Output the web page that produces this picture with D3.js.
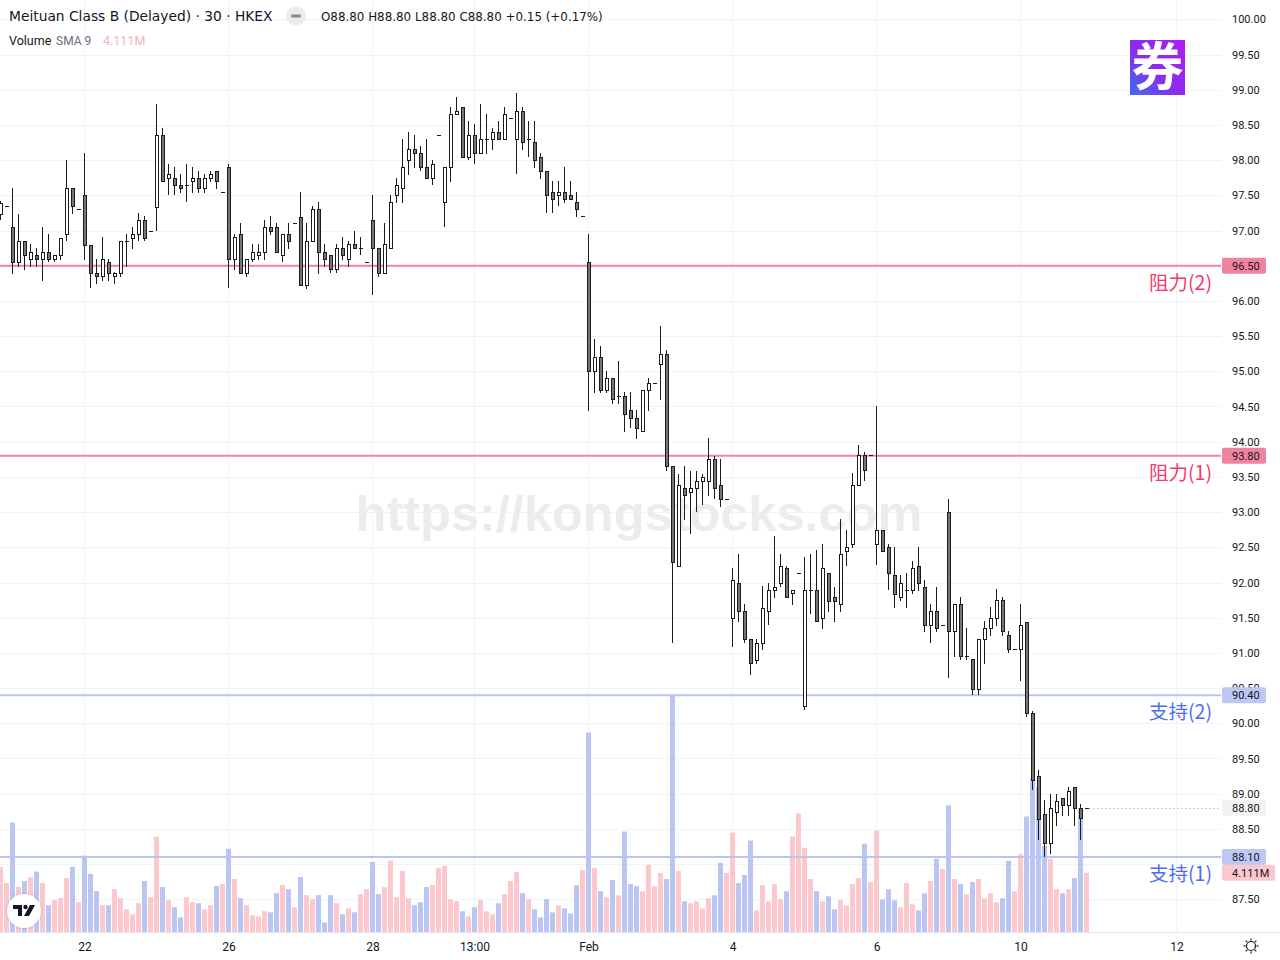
<!DOCTYPE html>
<html>
<head>
<meta charset="utf-8">
<title>Meituan Class B · 30 · HKEX</title>
<script src="https://cdn.jsdelivr.net/npm/d3@7"></script>
<style>
    body { margin: 0; background: #ffffff; }
    svg { display: block; font-family: Roboto, "Liberation Sans", sans-serif; }
</style>
</head>
<body>
<svg id="chart" width="1280" height="960"></svg>
<script>
// 30 minute bars (HKD)
const opens = [97.24,97.35,97.05,96.55,96.85,96.60,96.65,96.60,96.70,96.60,96.65,96.95,97.60,97.31,97.50,96.80,96.39,96.35,96.55,96.35,
    96.39,96.85,96.90,96.95,97.15,97.00,97.34,98.36,97.74,97.74,97.64,97.64,97.70,97.74,97.60,97.74,97.85,97.54,97.90,96.59,
    96.95,96.39,96.59,96.65,96.70,97.05,97.05,96.65,96.95,97.10,97.19,96.22,96.85,97.31,96.70,96.65,96.45,96.75,96.59,96.81,
    96.75,96.55,97.15,96.75,96.39,96.75,97.50,97.60,98.00,98.16,98.10,97.90,97.75,98.36,97.40,97.90,98.66,98.76,98.05,98.36,
    98.10,98.30,98.30,98.40,98.30,98.60,98.30,98.70,98.30,98.26,98.05,97.85,97.55,97.50,97.55,97.50,97.40,97.20,96.55,95.00,
    95.20,94.74,94.90,94.65,94.65,94.45,94.34,94.15,94.74,94.84,95.10,95.25,93.65,92.23,93.34,93.29,93.34,93.44,93.44,93.75,
    93.39,93.19,91.50,92.00,91.60,91.20,90.90,91.14,91.60,91.90,92.00,92.20,91.85,92.14,90.25,91.90,91.90,91.50,92.14,91.80,
    91.70,92.45,92.55,93.39,93.81,93.81,92.55,92.75,92.50,92.10,91.80,91.90,91.90,92.24,91.94,91.40,91.60,91.40,93.00,91.31,
    91.70,90.95,90.91,90.49,91.20,91.35,91.50,91.75,91.25,91.05,91.05,91.44,90.15,89.25,88.71,88.30,88.74,88.94,88.84,89.10,
    88.80,88.80];
const highs = [97.42,97.35,97.60,97.24,96.85,96.81,96.75,97.05,96.95,96.65,96.90,98.00,97.60,97.31,98.10,96.80,96.60,96.91,96.60,96.41,
    96.85,96.95,97.05,97.25,97.21,97.00,98.80,98.46,97.95,97.90,97.80,97.95,97.90,97.85,97.80,97.85,97.85,97.54,97.95,96.95,
    97.10,96.59,96.81,96.81,97.15,97.21,97.10,96.95,97.10,97.10,97.54,97.10,97.35,97.40,96.81,96.65,96.81,96.91,96.85,97.00,
    96.91,96.55,97.50,96.75,97.10,97.50,97.75,98.30,98.40,98.36,98.20,98.30,98.00,98.36,97.90,98.76,98.90,98.76,98.56,98.51,
    98.80,98.66,98.46,98.56,98.76,98.60,98.96,98.76,98.56,98.56,98.10,97.85,97.70,97.70,97.90,97.70,97.55,97.20,96.95,95.46,
    95.36,95.00,94.90,95.14,94.70,94.70,94.45,94.74,94.90,94.84,95.65,95.30,93.65,93.54,93.65,93.59,93.59,93.54,94.05,93.80,
    93.75,93.19,92.20,92.40,91.70,91.20,91.20,91.95,92.00,92.66,92.40,92.24,91.90,92.14,92.36,92.40,92.46,92.55,92.14,91.94,
    92.90,92.75,93.55,93.95,93.85,93.81,94.50,92.75,92.55,92.50,92.10,92.14,92.30,92.50,92.04,91.70,91.94,91.40,93.19,91.70,
    91.80,91.35,90.91,91.20,91.45,91.65,91.91,91.80,91.31,91.05,91.70,91.44,90.18,89.34,88.91,89.00,89.00,88.94,89.10,89.10,
    88.85,88.80];
const lows = [97.16,97.35,96.40,96.50,96.46,96.50,96.50,96.30,96.56,96.56,96.60,96.86,97.25,97.31,96.60,96.20,96.25,96.30,96.30,96.25,
    96.36,96.50,96.75,96.86,96.86,97.00,97.01,97.70,97.52,97.52,97.55,97.42,97.55,97.55,97.55,97.70,97.60,97.54,96.20,96.46,
    96.39,96.36,96.56,96.60,96.60,96.95,96.70,96.56,96.75,97.10,96.22,96.18,96.85,96.40,96.50,96.41,96.41,96.60,96.50,96.75,
    96.66,96.55,96.10,96.36,96.39,96.75,97.40,97.41,97.80,97.90,97.86,97.75,97.66,98.36,97.06,97.71,98.66,98.05,98.01,97.96,
    98.10,98.10,98.16,98.30,98.30,98.60,97.81,98.16,98.06,97.90,97.75,97.26,97.26,97.36,97.40,97.45,97.21,97.20,94.45,94.71,
    94.71,94.71,94.55,94.55,94.15,94.21,94.05,94.15,94.45,94.84,94.61,93.60,91.15,92.23,92.90,92.70,93.02,93.12,93.25,93.20,
    93.09,93.19,91.10,91.45,91.15,90.70,90.86,91.06,91.41,91.80,91.95,91.80,91.70,92.14,90.21,91.56,91.45,91.35,91.60,91.46,
    91.60,92.25,92.50,93.39,93.45,93.81,92.26,92.45,91.91,91.65,91.75,91.65,91.85,91.90,91.31,91.16,91.31,91.40,90.66,90.95,
    90.91,90.91,90.41,90.41,90.86,91.25,91.40,91.25,91.01,91.05,90.61,90.11,89.06,88.36,88.12,88.16,88.56,88.70,88.70,88.56,
    88.36,88.80];
const closes = [97.39,97.35,96.55,96.85,96.65,96.70,96.60,96.70,96.60,96.65,96.90,97.60,97.35,97.31,96.80,96.39,96.35,96.60,96.39,96.39,
    96.85,96.85,96.95,97.15,96.90,97.00,98.36,97.70,97.80,97.64,97.60,97.64,97.74,97.60,97.74,97.80,97.70,97.54,96.59,96.91,
    96.39,96.59,96.70,96.70,97.05,97.00,96.70,96.95,96.85,97.10,96.22,96.85,97.31,96.70,96.59,96.45,96.75,96.65,96.81,96.75,
    96.75,96.55,96.75,96.39,96.81,97.40,97.65,97.90,98.16,98.10,97.90,97.75,97.95,98.36,97.90,98.66,98.70,98.05,98.36,98.10,
    98.30,98.30,98.40,98.30,98.66,98.60,98.70,98.26,98.30,98.00,97.85,97.50,97.45,97.55,97.45,97.45,97.30,97.20,95.00,95.20,
    94.74,94.90,94.60,94.65,94.40,94.34,94.20,94.74,94.84,94.84,95.25,93.65,92.29,93.39,93.24,93.34,93.44,93.50,93.75,93.34,
    93.19,93.19,92.04,91.60,91.20,90.85,91.14,91.64,91.90,91.94,92.24,91.80,91.90,92.14,91.90,91.90,91.45,92.20,91.74,91.74,
    92.40,92.50,93.39,93.81,93.60,93.81,92.75,92.45,92.14,91.84,92.00,91.90,92.20,92.00,91.40,91.60,91.35,91.40,91.31,91.70,
    90.95,90.95,90.49,91.20,91.35,91.50,91.75,91.31,91.05,91.05,91.40,90.15,89.20,88.64,88.30,88.80,88.90,88.84,89.04,88.80,
    88.65,88.80];
// volume in millions of shares
const volumes = [4.52,3.40,7.61,3.12,3.54,3.80,4.20,3.40,1.86,2.21,2.35,3.75,4.52,2.07,5.30,4.03,2.84,1.86,1.86,2.98,
    2.35,1.58,1.23,2.00,3.54,2.42,6.63,3.12,2.21,1.72,1.02,2.42,2.07,2.00,1.58,1.86,3.19,3.33,5.78,3.68,
    2.35,1.86,1.16,1.09,1.44,1.37,2.70,3.26,2.98,1.72,3.82,2.56,2.28,2.56,0.66,2.56,2.00,1.23,1.64,1.37,
    2.63,2.98,4.87,2.63,3.12,4.95,2.42,4.24,2.35,1.86,2.07,3.12,3.26,4.45,4.59,2.28,2.14,1.44,1.09,1.72,
    2.21,1.44,1.23,2.00,2.63,3.54,4.17,2.70,2.28,1.58,1.02,2.28,1.36,1.85,1.64,1.29,3.25,4.31,13.86,4.45,
    2.83,2.41,3.61,2.55,6.98,3.33,3.18,2.83,4.66,3.18,4.10,3.68,16.39,4.24,2.13,1.99,2.13,1.64,2.34,2.55,
    4.80,4.10,6.91,3.40,3.96,6.35,1.50,3.25,2.13,3.33,2.27,2.83,6.63,8.24,5.85,3.68,2.83,2.13,2.48,1.57,
    2.20,1.85,3.33,3.75,6.13,3.47,7.05,2.27,2.97,2.20,1.71,3.40,1.92,1.50,2.69,3.54,5.08,4.38,8.80,3.68,
    3.33,2.62,3.47,3.68,2.34,2.69,2.06,2.34,4.94,2.83,5.40,8.02,10.66,10.10,5.98,5.08,2.97,2.69,2.97,3.75,
    8.60,4.111];

// time axis
const tickIndex = [14, 38, 62, 79, 98, 122, 146, 170, 196];
const tickLabels = ['22', '26', '28', '13:00', 'Feb', '4', '6', '10', '12'];

// price axis ticks hidden behind the axis labels
const hiddenTicks = [88.0];

// support / resistance levels
const levelPrices = [96.50, 93.80, 90.40, 88.10];
const levelNames = ['阻力(2)', '阻力(1)', '支持(2)', '支持(1)'];
const levelKinds = ['res', 'res', 'sup', 'sup'];

const lastPrice = 88.80;
const lastVolume = 4.111;

// colors
const upFill = '#ffffff', downFill = '#767676', candleLine = '#1c1c1c';
const volUp = '#fbc9cd', volDown = '#bac6f1';
const resLine = '#f0839f', supLine = '#b8c5f1';
const resText = '#f23b6a', supText = '#4e6cef';
const gridColor = '#f0f3fa', textColor = '#131722';

const paneRight = 1221, paneBottom = 932;

const svg = d3.select('#chart');

// scales
const x = d3.scaleLinear().domain([0, 196]).range([0.5, 1176.5]);
const y = d3.scaleLinear().domain([87.5, 100]).range([899.3, 19.3]);
const yVol = d3.scaleLinear().domain([0, 10]).range([paneBottom, paneBottom - 144]);

const defs = svg.append('defs');
defs.append('clipPath').attr('id', 'pane')
    .append('rect').attr('x', 0).attr('y', 0).attr('width', paneRight).attr('height', paneBottom);

const grad = defs.append('linearGradient').attr('id', 'logoGrad')
    .attr('x1', '100%').attr('y1', '0%').attr('x2', '0%').attr('y2', '100%');
grad.append('stop').attr('offset', '0%').attr('stop-color', '#b01ef0');
grad.append('stop').attr('offset', '55%').attr('stop-color', '#8a2cf0');
grad.append('stop').attr('offset', '100%').attr('stop-color', '#3c6cf0');

const shadow = defs.append('filter').attr('id', 'shadow')
    .attr('x', '-50%').attr('y', '-50%').attr('width', '200%').attr('height', '200%');
shadow.append('feDropShadow').attr('dx', 0).attr('dy', 0).attr('stdDeviation', 1.5)
    .attr('flood-color', '#000').attr('flood-opacity', 0.18);

const pane = svg.append('g').attr('clip-path', 'url(#pane)');

// grid
const priceTicks = d3.range(87.5, 100.001, 0.5);
pane.append('g').selectAll('line')
    .data(priceTicks)
    .enter().append('line')
    .attr('x1', 0).attr('x2', paneRight)
    .attr('y1', d => Math.round(y(d)) + 0.5).attr('y2', d => Math.round(y(d)) + 0.5)
    .attr('stroke', gridColor);

pane.append('g').selectAll('line')
    .data(tickIndex)
    .enter().append('line')
    .attr('x1', d => x(d)).attr('x2', d => x(d))
    .attr('y1', 0).attr('y2', paneBottom)
    .attr('stroke', gridColor);

// watermark
pane.append('text')
    .attr('x', 639).attr('y', 531)
    .attr('text-anchor', 'middle')
    .style('font-family', '"Liberation Sans", Arial, sans-serif')
    .style('font-weight', 'bold')
    .style('font-size', '50.5px')
    .attr('fill', '#ececec')
    .text('https://kongstocks.com');

// volume
pane.append('g').selectAll('rect')
    .data(volumes)
    .enter().append('rect')
    .attr('x', (d, i) => x(i) - 2.5)
    .attr('width', 5)
    .attr('y', d => yVol(d))
    .attr('height', d => paneBottom - yVol(d))
    .attr('fill', (d, i) => closes[i] >= opens[i] ? volUp : volDown);

// support / resistance lines
pane.append('g').selectAll('line')
    .data(levelPrices)
    .enter().append('line')
    .attr('x1', 0).attr('x2', paneRight)
    .attr('y1', d => y(d)).attr('y2', d => y(d))
    .attr('stroke', (d, i) => levelKinds[i] === 'res' ? resLine : supLine)
    .attr('stroke-width', 2);

// candles
const candles = pane.append('g').attr('shape-rendering', 'crispEdges');
const idx = d3.range(opens.length);
const bodyTop = i => Math.round(y(Math.max(opens[i], closes[i])));
const bodyBottom = i => Math.round(y(Math.min(opens[i], closes[i])));

candles.selectAll('line.wick')
    .data(idx)
    .enter().append('line')
    .attr('class', 'wick')
    .attr('x1', i => x(i)).attr('x2', i => x(i))
    .attr('y1', i => Math.round(y(highs[i])))
    .attr('y2', i => Math.round(y(lows[i])) + 1)
    .attr('stroke', candleLine);

candles.selectAll('rect.body')
    .data(idx)
    .enter().append('rect')
    .attr('class', 'body')
    .attr('x', i => x(i) - 1.5)
    .attr('width', 4)
    .attr('y', bodyTop)
    .attr('height', i => Math.max(1, bodyBottom(i) - bodyTop(i) + 1))
    .attr('fill', candleLine);

candles.selectAll('rect.inner')
    .data(idx.filter(i => bodyBottom(i) - bodyTop(i) >= 2))
    .enter().append('rect')
    .attr('class', 'inner')
    .attr('x', i => x(i) - 0.5)
    .attr('width', 2)
    .attr('y', i => bodyTop(i) + 1)
    .attr('height', i => bodyBottom(i) - bodyTop(i) - 1)
    .attr('fill', i => closes[i] >= opens[i] ? upFill : downFill);

// last price line
pane.append('line')
    .attr('x1', x(opens.length - 1) + 3).attr('x2', paneRight)
    .attr('y1', Math.round(y(lastPrice)) + 0.5).attr('y2', Math.round(y(lastPrice)) + 0.5)
    .attr('stroke', '#9aa0ad')
    .attr('stroke-dasharray', '1,3');

// level names
svg.append('g').selectAll('text')
    .data(levelPrices)
    .enter().append('text')
    .attr('x', 1212)
    .attr('y', d => y(d) + 17)
    .attr('dy', '0.36em')
    .attr('text-anchor', 'end')
    .style('font-family', '"Noto Sans CJK SC", "Noto Sans", sans-serif')
    .style('font-size', '19.5px')
    .attr('fill', (d, i) => levelKinds[i] === 'res' ? resText : supText)
    .text((d, i) => levelNames[i]);

// price axis
const yAxis = svg.append('g')
    .attr('transform', `translate(${paneRight},0)`)
    .call(d3.axisRight(y)
        .tickValues(priceTicks.filter(p => !hiddenTicks.includes(p)))
        .tickSize(0).tickPadding(11).tickFormat(d3.format('.2f')));
yAxis.select('.domain').remove();
yAxis.selectAll('text')
    .style('font-family', 'Roboto, sans-serif')
    .style('font-size', '11px')
    .attr('fill', textColor);

// price labels on the axis
function axisLabel(yPos, txt, bg, w) {
    svg.append('rect')
        .attr('x', paneRight + 1).attr('y', yPos - 8)
        .attr('width', w).attr('height', 16)
        .attr('rx', 2)
        .attr('fill', bg);
    svg.append('text')
        .attr('x', paneRight + 11).attr('y', yPos)
        .attr('dy', '0.35em')
        .style('font-size', '11px')
        .attr('fill', textColor)
        .text(txt);
}
levelPrices.forEach((p, i) => axisLabel(y(p), d3.format('.2f')(p), levelKinds[i] === 'res' ? resLine : '#bdc9f4', 44));
axisLabel(y(lastPrice), d3.format('.2f')(lastPrice), '#f2f2f2', 44);
axisLabel(yVol(lastVolume), lastVolume.toFixed(3) + 'M', '#fbc9cd', 53);

// time axis
svg.append('line')
    .attr('x1', 0).attr('x2', 1280)
    .attr('y1', paneBottom + 0.5).attr('y2', paneBottom + 0.5)
    .attr('stroke', '#e0e3eb');

const xAxis = svg.append('g')
    .attr('transform', `translate(0,${paneBottom})`)
    .call(d3.axisBottom(x).tickValues(tickIndex).tickSize(0).tickPadding(10)
        .tickFormat((d, i) => tickLabels[i]));
xAxis.select('.domain').remove();
xAxis.selectAll('text')
    .style('font-family', 'Roboto, sans-serif')
    .style('font-size', '12px')
    .attr('fill', textColor);

// settings icon
const gear = svg.append('g').attr('transform', 'translate(1251,946)')
    .attr('stroke', textColor).attr('fill', 'none').attr('stroke-width', 1.2);
gear.append('circle').attr('r', 4.5);
d3.range(8).forEach(k => {
    const a = k * Math.PI / 4;
    gear.append('line')
        .attr('x1', Math.cos(a) * 5.5).attr('y1', Math.sin(a) * 5.5)
        .attr('x2', Math.cos(a) * 7.5).attr('y2', Math.sin(a) * 7.5);
});

// header
const head = svg.append('g');
head.append('text')
    .attr('x', 9).attr('y', 21)
    .style('font-family', '"DejaVu Sans", sans-serif')
    .style('font-size', '13.8px')
    .attr('fill', textColor)
    .text('Meituan Class B (Delayed) · 30 · HKEX');
head.append('rect')
    .attr('x', 286).attr('y', 7).attr('width', 20).attr('height', 18).attr('rx', 9)
    .attr('fill', '#ebebeb');
head.append('rect')
    .attr('x', 291).attr('y', 14.5).attr('width', 10).attr('height', 3).attr('rx', 1)
    .attr('fill', '#888c96');
head.append('text')
    .attr('x', 321).attr('y', 21)
    .style('font-family', '"DejaVu Sans", sans-serif')
    .style('font-size', '11.9px')
    .attr('fill', textColor)
    .text('O88.80 H88.80 L88.80 C88.80 +0.15 (+0.17%)');

const volHead = head.append('text')
    .attr('x', 9).attr('y', 45)
    .style('font-size', '12.5px');
volHead.append('tspan').attr('fill', textColor).text('Volume ');
volHead.append('tspan').attr('x', 56).attr('fill', '#6a6d78').style('font-size', '12px').text('SMA 9');
volHead.append('tspan').attr('x', 103).attr('fill', '#f7b3bb').style('font-size', '12.5px').text(lastVolume.toFixed(3) + 'M');

// site logo, top right
const logo = svg.append('g').attr('transform', 'translate(1130,40)');
logo.append('rect').attr('width', 55).attr('height', 55).attr('fill', 'url(#logoGrad)');
logo.append('text')
    .attr('x', 27.5).attr('y', 46)
    .attr('text-anchor', 'middle')
    .style('font-family', '"Noto Sans CJK SC", sans-serif')
    .style('font-weight', 'bold')
    .style('font-size', '52px')
    .attr('fill', '#ffffff')
    .text('券');

// TradingView badge, bottom left
const tv = svg.append('g').attr('transform', 'translate(24,911)');
tv.append('circle').attr('r', 17).attr('fill', '#ffffff').attr('filter', 'url(#shadow)');
tv.append('path').attr('d', 'M-11,-6 h9 v11 h-4 v-7 h-5 z').attr('fill', textColor);
tv.append('circle').attr('cx', 1.5).attr('cy', -4).attr('r', 2.2).attr('fill', textColor);
tv.append('path').attr('d', 'M6,-6 h5 l-6,11 h-5 z').attr('fill', textColor);
</script>
</body>
</html>
